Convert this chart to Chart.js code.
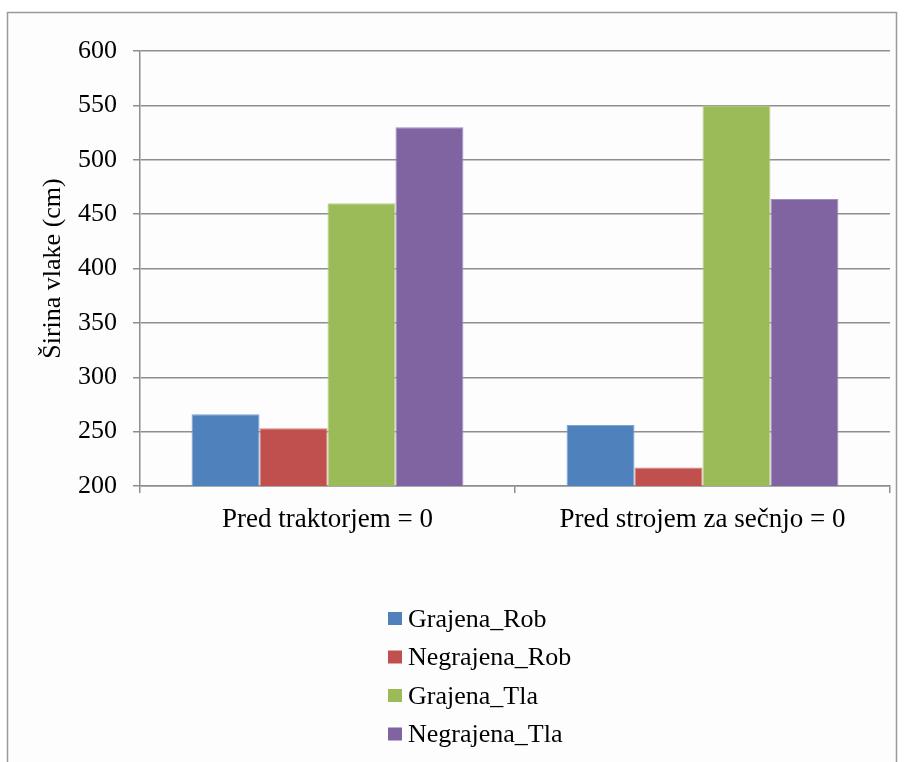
<!DOCTYPE html>
<html>
<head>
<meta charset="utf-8">
<script src="https://cdn.jsdelivr.net/npm/chart.js"></script>
<style>
  body { margin: 0; background: #ffffff; }
  canvas { display: block; }
</style>
</head>
<body>
<canvas id="barChart" width="904" height="762"></canvas>
<script>
// data
var categories = ["Pred traktorjem = 0", "Pred strojem za sečnjo = 0"];
var seriesNames = ["Grajena_Rob", "Negrajena_Rob", "Grajena_Tla", "Negrajena_Tla"];
var grajenaRob = [266, 256];
var negrajenaRob = [253, 217];
var grajenaTla = [460, 550];
var negrajenaTla = [530, 464];
var seriesColors = ["#4f81bd", "#c0504d", "#9bbb59", "#8064a2"];
var edgeColors = ["#7ea3d3", "#d98583", "#b9d389", "#a48cc0"];

var yMin = 200;
var yMax = 600;
var yStep = 50;

var serif = "'Liberation Serif', 'Times New Roman', serif";
var gridGray = "#8e8e8e";

//frame around the whole chart, like the office chart area
var framePlugin = {
  id: "frame",
  beforeDraw: function (chart) {
    var ctx = chart.ctx;
    ctx.save();
    ctx.fillStyle = "#ffffff";
    ctx.fillRect(0, 0, chart.width, chart.height);
    ctx.fillStyle = "#fdfdfd";
    ctx.fillRect(7, 12, 890, chart.height);
    ctx.strokeStyle = "#9a9a9a";
    ctx.lineWidth = 1.5;
    ctx.strokeRect(7.5, 12.5, 889, chart.height + 10);
    ctx.restore();
  }
};

//vertical legend under the plot (built in legend only does rows at the bottom)
var stackedLegend = {
  id: "stackedLegend",
  afterDraw: function (chart) {
    var ctx = chart.ctx;
    var x = 388;
    var y = 619;
    var rowGap = 38.5;
    ctx.save();
    ctx.font = "26px " + serif;
    ctx.textBaseline = "middle";
    ctx.textAlign = "left";
    chart.data.datasets.forEach(function (ds, i) {
      var cy = y + i * rowGap;
      ctx.fillStyle = ds.backgroundColor;
      ctx.fillRect(x, cy - 7, 14, 13);
      ctx.fillStyle = "#000000";
      ctx.fillText(ds.label, x + 20, cy + 1);
    });
    ctx.restore();
  }
};

var allSeries = [grajenaRob, negrajenaRob, grajenaTla, negrajenaTla];
var datasets = allSeries.map(function (values, i) {
  return {
    label: seriesNames[i],
    data: values,
    backgroundColor: seriesColors[i],
    borderColor: edgeColors[i],
    borderWidth: 1,
    categoryPercentage: 0.725,
    barPercentage: 1.0
  };
});

var ctxB = document.getElementById("barChart").getContext("2d");
var myBarChart = new Chart(ctxB, {
  type: "bar",
  data: {
    labels: categories,
    datasets: datasets
  },
  options: {
    responsive: false,
    animation: false,
    layout: {
      padding: { left: 7, top: 51, right: 14, bottom: 216 }
    },
    plugins: {
      legend: { display: false },
      tooltip: { enabled: false }
    },
    scales: {
      x: {
        grid: {
          drawOnChartArea: false,
          drawTicks: true,
          tickLength: 7,
          color: gridGray,
          lineWidth: 1.5
        },
        border: { display: true, color: gridGray, width: 1.5 },
        ticks: {
          color: "#000000",
          padding: 11,
          maxRotation: 0,
          font: { family: serif, size: 27 }
        },
        afterFit: function (scale) {
          scale.height = 60;
        }
      },
      y: {
        min: yMin,
        max: yMax,
        ticks: {
          stepSize: yStep,
          color: "#000000",
          padding: 16,
          font: { family: serif, size: 26 }
        },
        grid: {
          color: gridGray,
          lineWidth: 1.5,
          drawTicks: true,
          tickLength: 7
        },
        border: { display: true, color: gridGray, width: 1.5 },
        title: {
          display: true,
          text: "Širina vlake (cm)",
          color: "#000000",
          padding: { top: 31, bottom: 0 },
          font: { family: serif, size: 26 }
        },
        afterFit: function (scale) {
          scale.width = 133;
        }
      }
    }
  },
  plugins: [framePlugin, stackedLegend]
});
</script>
</body>
</html>
